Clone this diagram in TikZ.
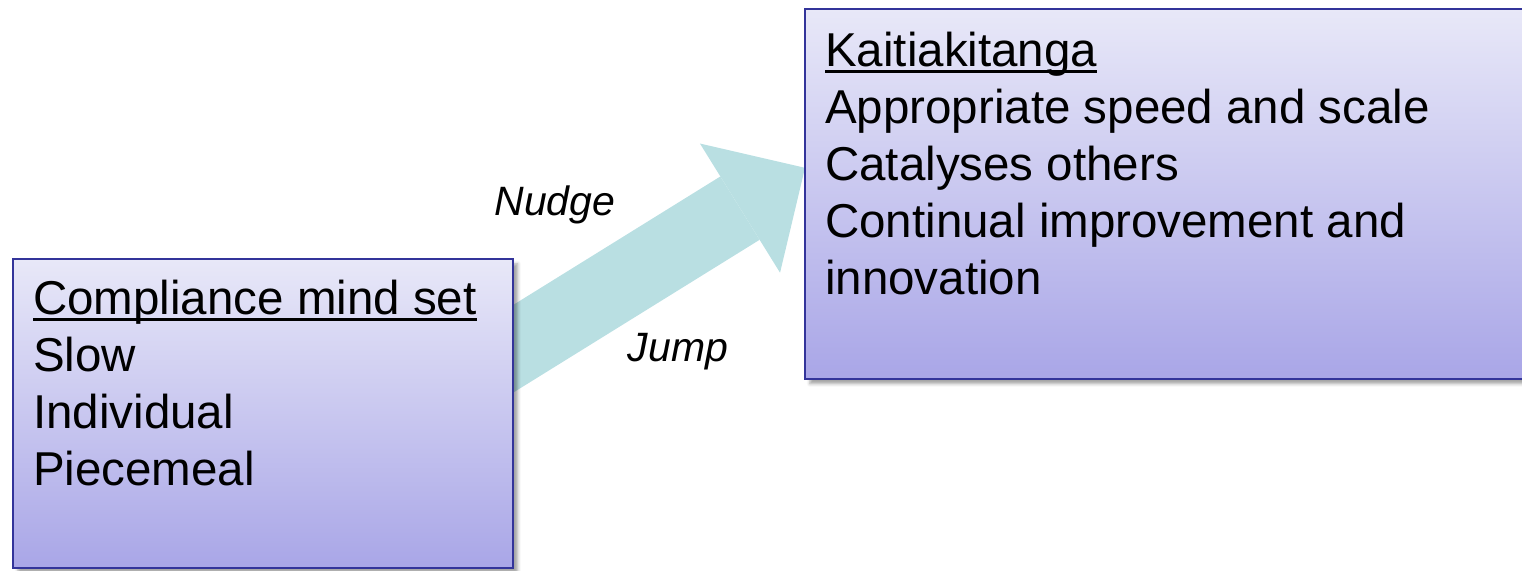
\documentclass[tikz,border=0pt]{standalone}
\usepackage{fontspec}
\setmainfont{Liberation Sans}
\usetikzlibrary{arrows.meta,shadows.blur,backgrounds,positioning}

\definecolor{boxtop}{HTML}{E8E8F8}
\definecolor{boxbot}{HTML}{A9A6E7}
\definecolor{boxline}{HTML}{33349A}
\definecolor{arrowfill}{HTML}{B9DFE2}
\newcommand\headline[1]{\setbox0\hbox{#1}\rlap{\rule[-6pt]{\wd0}{2.8pt}}\box0}

\begin{document}
\begin{tikzpicture}[x=1pt, y=-1pt,
  panel/.style={rectangle, draw=boxline, line width=1.6pt, top color=boxtop, bottom color=boxbot,
    anchor=north west, blur shadow={shadow xshift=5pt, shadow yshift=-5pt, shadow blur radius=3pt, shadow opacity=35}},
  lines/.style={anchor=north west, inner sep=0pt, align=left, font=\fontsize{47.5}{57}\selectfont},
  cue/.style={font=\fontsize{41}{49}\selectfont\itshape}]
  \useasboundingbox (0,0) rectangle (1522,570);
  % the two mind sets
  \node[panel, minimum width=500, minimum height=309] (comply) at (12,258) {};
  \node[panel, minimum width=736, minimum height=370] (kaiti) at (804,8) {};
  \node[lines] (complytext) at ([shift={(21,22)}]comply.north west)
    {\headline{Compliance mind set}\\Slow\\Individual\\Piecemeal};
  \node[lines] (kaititext) at ([shift={(21,24)}]kaiti.north west)
    {\headline{Kaitiakitanga}\\Appropriate speed and scale\\Catalyses others\\Continual improvement and\\innovation};
  % the shift between them
  \coordinate (tail) at ([shift={(-48,-35)}]comply.east);
  \coordinate (tip) at ([shift={(1,-26)}]kaiti.west);
  \begin{scope}[on background layer]
    \draw[arrowfill, line width=74.5pt, -{Triangle[length=76.5pt, width=152pt, line width=0pt]}] (tail) -- (tip);
  \end{scope}
  \node[cue] (nudge) at (555,205) {Nudge};
  \node[cue] (jump) at (678,352) {Jump};
\end{tikzpicture}
\end{document}
